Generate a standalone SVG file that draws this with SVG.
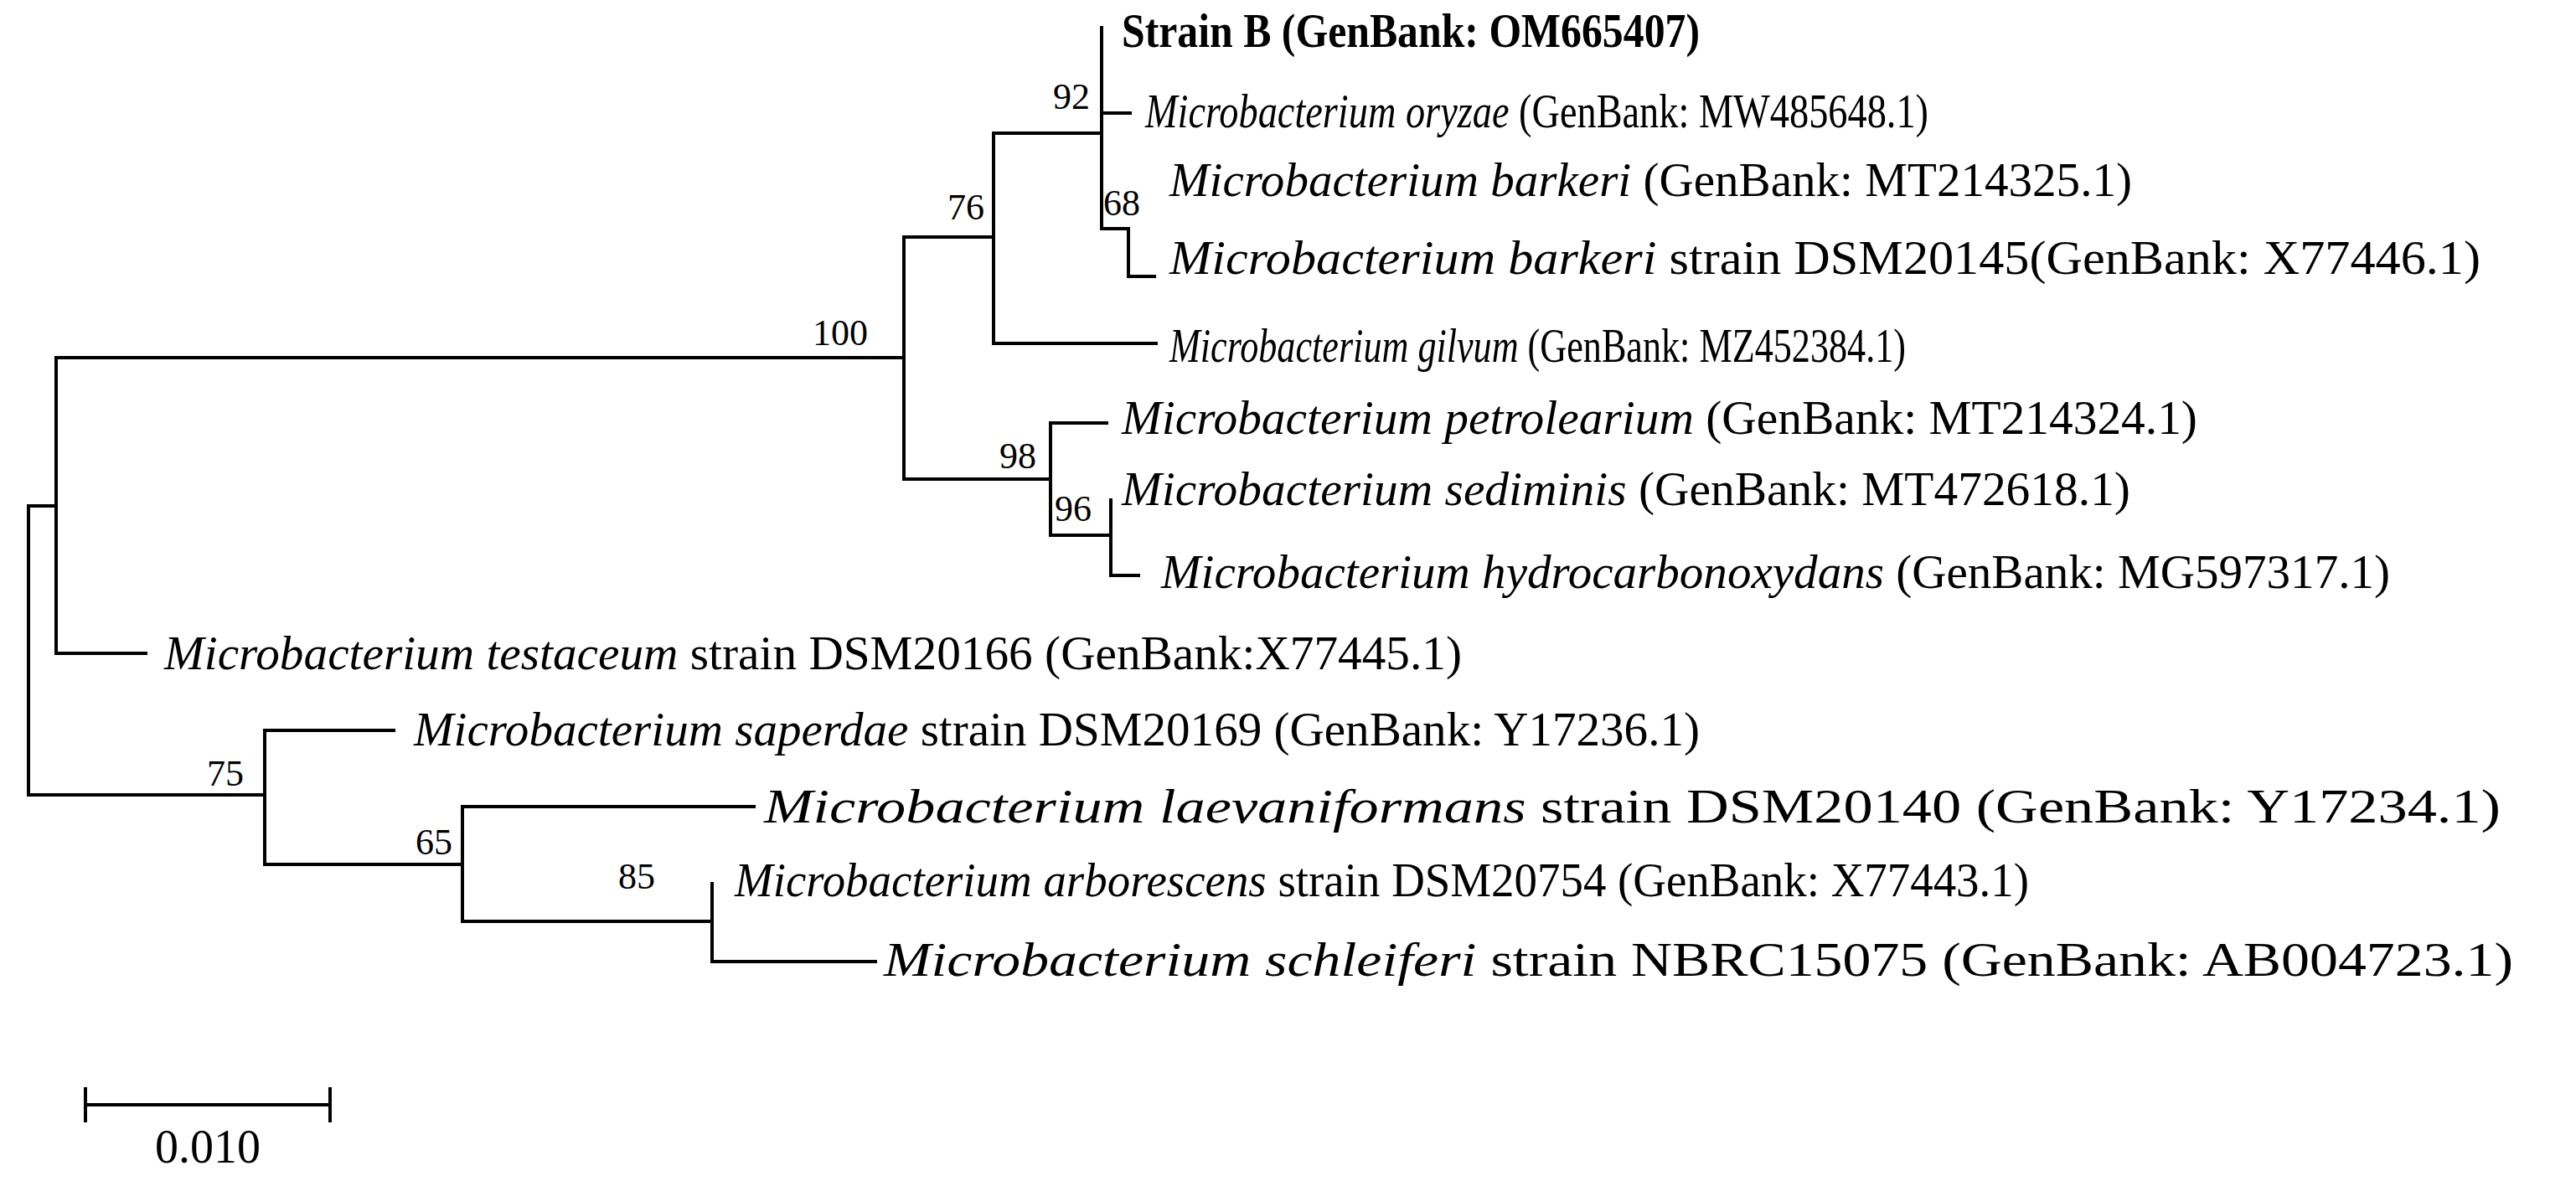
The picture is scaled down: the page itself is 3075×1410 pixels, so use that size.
<svg xmlns="http://www.w3.org/2000/svg" width="3075" height="1410" viewBox="0 0 3075 1410">
<style>
.br{stroke:#000;stroke-width:4;fill:none;stroke-linecap:square}
text{font-family:"Liberation Serif","Times New Roman",serif;font-size:56px;fill:#000}
.bs{font-size:44px}
.b{font-weight:bold}
.i{font-style:italic}
</style>
<rect width="3075" height="1410" fill="#fff"/>
<g id="connectors">
<path class="br" d="M34,604V949 M34,604H67 M34,949H316"/>
<path class="br" d="M67,427V780 M67,427H1079 M67,780H174"/>
<path class="br" d="M1079,283V572 M1079,283H1186 M1079,572H1254"/>
<path class="br" d="M1186,159V410 M1186,159H1315 M1186,410H1380"/>
<path class="br" d="M1315,33V273 M1315,135H1349 M1315,273H1347"/>
<path class="br" d="M1347,273V330 M1347,330H1378"/>
<path class="br" d="M1254,505V639 M1254,505H1321 M1254,639H1326"/>
<path class="br" d="M1326,597V687 M1326,687H1359"/>
<path class="br" d="M316,872V1032 M316,872H470 M316,1032H552"/>
<path class="br" d="M552,963V1100 M552,963H900 M552,1100H850"/>
<path class="br" d="M850,1055V1148 M850,1148H1045"/>
<path class="br" d="M102,1319H394 M102,1300V1338 M394,1300V1338"/>
</g>
<g id="bootstrap">
<text class="bs" x="1036" y="412" text-anchor="end">100</text>
<text class="bs" x="1175" y="262" text-anchor="end">76</text>
<text class="bs" x="1301" y="130" text-anchor="end">92</text>
<text class="bs" x="1317" y="257">68</text>
<text class="bs" x="1237" y="559" text-anchor="end">98</text>
<text class="bs" x="1259" y="622">96</text>
<text class="bs" x="291" y="938" text-anchor="end">75</text>
<text class="bs" x="540" y="1020" text-anchor="end">65</text>
<text class="bs" x="782" y="1061" text-anchor="end">85</text>
</g>
<g id="leaf-strainB"><text class="b" x="1339" y="56" textLength="690" lengthAdjust="spacingAndGlyphs">Strain B (GenBank: OM665407)</text></g>
<g id="leaf-oryzae"><text x="1367" y="152" textLength="935" lengthAdjust="spacingAndGlyphs"><tspan class="i">Microbacterium oryzae</tspan> (GenBank: MW485648.1)</text></g>
<g id="leaf-barkeri"><text x="1396" y="234" textLength="1149" lengthAdjust="spacingAndGlyphs"><tspan class="i">Microbacterium barkeri</tspan> (GenBank: MT214325.1)</text></g>
<g id="leaf-barkeri-dsm"><text x="1396" y="327" textLength="1565" lengthAdjust="spacingAndGlyphs"><tspan class="i">Microbacterium barkeri</tspan> strain DSM20145(GenBank: X77446.1)</text></g>
<g id="leaf-gilvum"><text x="1396" y="432" textLength="879" lengthAdjust="spacingAndGlyphs"><tspan class="i">Microbacterium gilvum</tspan> (GenBank: MZ452384.1)</text></g>
<g id="leaf-petrolearium"><text x="1339" y="518" textLength="1284" lengthAdjust="spacingAndGlyphs"><tspan class="i">Microbacterium petrolearium</tspan> (GenBank: MT214324.1)</text></g>
<g id="leaf-sediminis"><text x="1339" y="603" textLength="1204" lengthAdjust="spacingAndGlyphs"><tspan class="i">Microbacterium sediminis</tspan> (GenBank: MT472618.1)</text></g>
<g id="leaf-hydro"><text x="1386" y="702" textLength="1467" lengthAdjust="spacingAndGlyphs"><tspan class="i">Microbacterium hydrocarbonoxydans</tspan> (GenBank: MG597317.1)</text></g>
<g id="leaf-testaceum"><text x="196" y="799" textLength="1549" lengthAdjust="spacingAndGlyphs"><tspan class="i">Microbacterium testaceum</tspan> strain DSM20166 (GenBank:X77445.1)</text></g>
<g id="leaf-saperdae"><text x="494" y="890" textLength="1535" lengthAdjust="spacingAndGlyphs"><tspan class="i">Microbacterium saperdae</tspan> strain DSM20169 (GenBank: Y17236.1)</text></g>
<g id="leaf-laev"><text x="912" y="982" textLength="2073" lengthAdjust="spacingAndGlyphs"><tspan class="i">Microbacterium laevaniformans</tspan> strain DSM20140 (GenBank: Y17234.1)</text></g>
<g id="leaf-arborescens"><text x="877" y="1070" textLength="1545" lengthAdjust="spacingAndGlyphs"><tspan class="i">Microbacterium arborescens</tspan> strain DSM20754 (GenBank: X77443.1)</text></g>
<g id="leaf-schleiferi"><text x="1055" y="1165" textLength="1945" lengthAdjust="spacingAndGlyphs"><tspan class="i">Microbacterium schleiferi</tspan> strain NBRC15075 (GenBank: AB004723.1)</text></g>
<g id="scale"><text x="248" y="1388" text-anchor="middle">0.010</text></g>
</svg>
